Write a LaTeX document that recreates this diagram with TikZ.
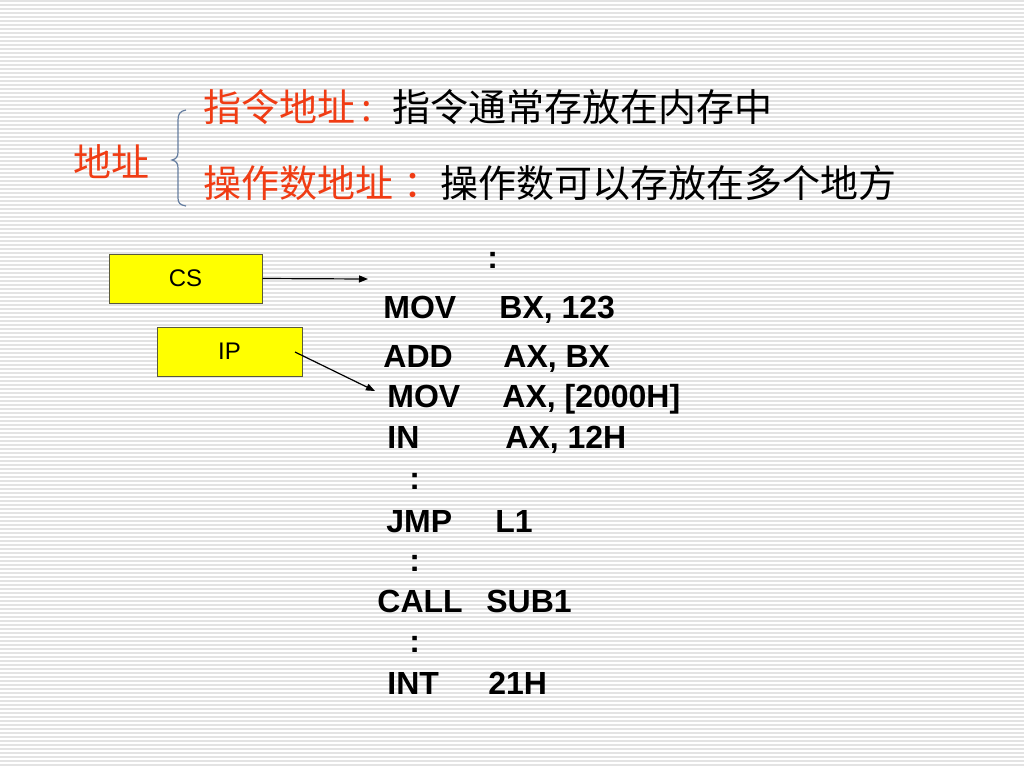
\documentclass[tikz,border=0pt]{standalone}
\usepackage{fontspec}
\setmainfont{Liberation Sans}
\newfontfamily\cjk{Noto Sans CJK SC}
\usetikzlibrary{arrows.meta}

\definecolor{addrred}{RGB}{240,60,20}
\definecolor{bracegray}{RGB}{100,125,160}
\definecolor{boxedge}{RGB}{90,90,60}
\definecolor{regyellow}{RGB}{255,255,0}

\begin{document}
\begin{tikzpicture}[x=0.5pt, y=-0.5pt,
  code/.style={anchor=base west, inner sep=0pt, font=\fontsize{16}{19}\selectfont\bfseries},
  reg/.style={draw=boxedge, line width=0.5pt, fill=regyellow, inner sep=0pt,
    minimum height=24.5pt, font=\fontsize{12}{14}\selectfont},
  cn/.style={anchor=base west, inner sep=0pt, font=\cjk\fontsize{19}{22}\selectfont},
  ptr/.style={-{Triangle[length=4.5pt,width=3.5pt]}, line width=0.6pt}]

\def\xm{387};   % mnemonics
\def\xo{502};   % operands
\def\xd{409};   % dots

\useasboundingbox (0,0) rectangle (1024,768);
\fill[white] (0,0) rectangle (1024,768);
\foreach \y in {1,5,...,768}
  \draw[black!11, line width=0.7pt] (0,\y) -- (1024,\y);

% address kinds
\node[cn, text=addrred] (addr) at (73,176) {地址};
\draw[bracegray, line width=0.6pt] (186,110) .. controls (180,111) and (178,114) .. (178,120)
  -- (178,152) .. controls (178,157) and (176,159) .. (172,160)
  .. controls (176,161) and (178,163) .. (178,168)
  -- (178,198) .. controls (178,203) and (180,205) .. (186,206);

\node[cn, text=addrred] (ia) at (203,121) {指令地址\kern3pt:};
\node[cn] (iat) at (392,121) {指令通常存放在内存中};
\node[cn, text=addrred] (oa) at (203,197) {操作数地址\kern5pt：};
\node[cn] (oat) at (440,197) {操作数可以存放在多个地方};

% registers
\node[reg, minimum width=76.5pt] (cs) at (185.5,278.5) {CS};
\node[reg, minimum width=72.5pt] (ip) at (229.5,351.5) {IP};

% program
\node[code] (d0) at (487,268) {:};
\node[code] (m1) at (383,318) {MOV};  \node[code] (o1) at (499,318) {BX, 123};
\node[code] (m2) at (383,367) {ADD};  \node[code] (o2) at (503,367) {AX, BX};
\node[code] (m3) at (\xm,407) {MOV};  \node[code] (o3) at (\xo,407) {AX, [2000H]};
\node[code] (m4) at (\xm,448) {IN};   \node[code] (o4) at (505,448) {AX, 12H};
\node[code] (d1) at (\xd,489) {:};
\node[code] (m5) at (386,532) {JMP};  \node[code] (o5) at (495,532) {L1};
\node[code] (d2) at (\xd,571) {:};
\node[code] (m6) at (377,612) {CALL}; \node[code] (o6) at (486,612) {SUB1};
\node[code] (d3) at (\xd,652) {:};
\node[code] (m7) at (\xm,694) {INT};  \node[code] (o7) at (488,694) {21H};

\coordinate (csto) at (368,279);
\coordinate (ipout) at (295,352);
\coordinate (ipto) at (375,391);
\draw[ptr] (cs.east) -- (csto);
\draw[ptr] (ipout) -- (ipto);

\end{tikzpicture}
\end{document}
